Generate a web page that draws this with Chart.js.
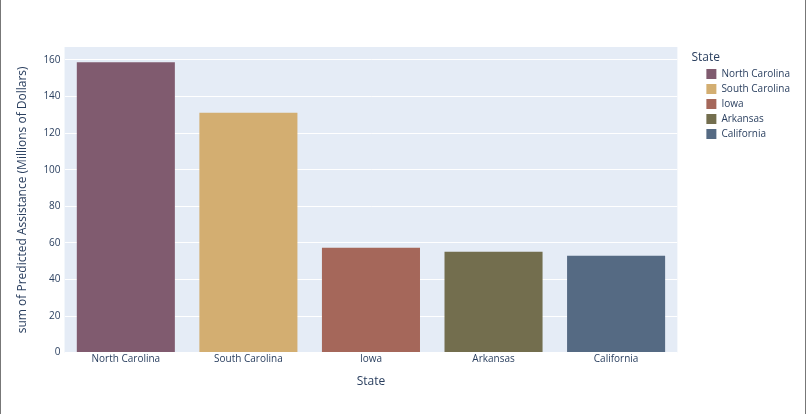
<!DOCTYPE html>
<html>
<head>
<meta charset="utf-8">
<script src="https://cdn.jsdelivr.net/npm/chart.js@4"></script>
<style>
  body { margin: 0; background: #fff; }
  #wrap { width: 806px; height: 414px; box-sizing: border-box; border-left: 1px solid #777; border-right: 1px solid #777; position: relative; }
</style>
</head>
<body>
<div id="wrap"><canvas id="stateChart"></canvas></div>
<script>
var states = ["North Carolina", "South Carolina", "Iowa", "Arkansas", "California"];
var assistance = [158.7, 131.1, 57.3, 55.1, 52.9];
var stateColors = ["#805b6f", "#d3ae71", "#a5675a", "#736e4e", "#556a83"];
var yTicks = [0, 20, 40, 60, 80, 100, 120, 140, 160];

var fontColor = "#2a3f5f";
var fontFamily = "'Open Sans', verdana, arial, sans-serif";

// one dataset per state, like plotly traces
let datasets = states.map((st, i) => {
    return {
        label: st,
        data: states.map((s, j) => j == i ? assistance[i] : null),
        backgroundColor: stateColors[i],
        borderWidth: 0,
        categoryPercentage: 0.8,
        barPercentage: 1.0
    };
});

var plotBg = {
    id: 'plotBg',
    beforeDraw: function(chart) {
        var a = chart.chartArea;
        var ctx = chart.ctx;
        ctx.save();
        ctx.fillStyle = "#e5ecf6";
        ctx.fillRect(a.left, a.top, a.right - a.left, a.bottom - a.top);
        ctx.restore();
    }
};

// plotly puts the legend a bit away from the plot, with the title outdented
var legendPlace = {
    id: 'legendPlace',
    afterLayout: function(chart) {
        var lg = chart.legend;
        var w = lg.right - lg.left;
        lg.left = chart.chartArea.right + 24;
        lg.right = lg.left + w;
        lg.top = chart.chartArea.top + 17;
    },
    afterDraw: function(chart) {
        var ctx = chart.ctx;
        ctx.save();
        ctx.fillStyle = fontColor;
        ctx.font = "12px " + fontFamily;
        ctx.textBaseline = 'middle';
        ctx.textAlign = 'left';
        ctx.fillText('State', chart.chartArea.right + 14, chart.chartArea.top + 11);
        ctx.restore();
    }
};

var stateChart = new Chart(document.getElementById("stateChart"), {
    type: 'bar',
    data: { labels: states, datasets: datasets },
    plugins: [plotBg, legendPlace],
    options: {
        responsive: true,
        maintainAspectRatio: false,
        animation: false,
        skipNull: true,
        layout: { padding: { top: 47, left: 14, right: 29, bottom: 25 } },
        plugins: {
            tooltip: { enabled: false },
            legend: {
                position: 'right',
                align: 'start',
                labels: {
                    boxWidth: 10,
                    boxHeight: 10,
                    padding: 5,
                    color: fontColor,
                    font: { family: fontFamily, size: 10 }
                }
            }
        },
        scales: {
            x: {
                grid: { display: false, drawTicks: false },
                border: { display: false },
                ticks: { color: fontColor, font: { family: fontFamily, size: 10 }, padding: 1, maxRotation: 0 },
                title: {
                    display: true,
                    text: 'State',
                    color: fontColor,
                    font: { family: fontFamily, size: 12 },
                    padding: { top: 8, bottom: 0 }
                }
            },
            y: {
                min: 0,
                max: 167.1,
                afterBuildTicks: function(scale) {
                    scale.ticks = yTicks.map(v => ({ value: v }));
                },
                grid: { color: "#ffffff", lineWidth: 1, drawTicks: false },
                border: { display: false },
                ticks: { color: fontColor, font: { family: fontFamily, size: 10 }, padding: 4 },
                title: {
                    display: true,
                    text: 'sum of Predicted Assistance (Millions of Dollars)',
                    color: fontColor,
                    font: { family: fontFamily, size: 12 },
                    padding: { top: 0, bottom: 10 }
                }
            }
        }
    }
});
</script>
</body>
</html>
